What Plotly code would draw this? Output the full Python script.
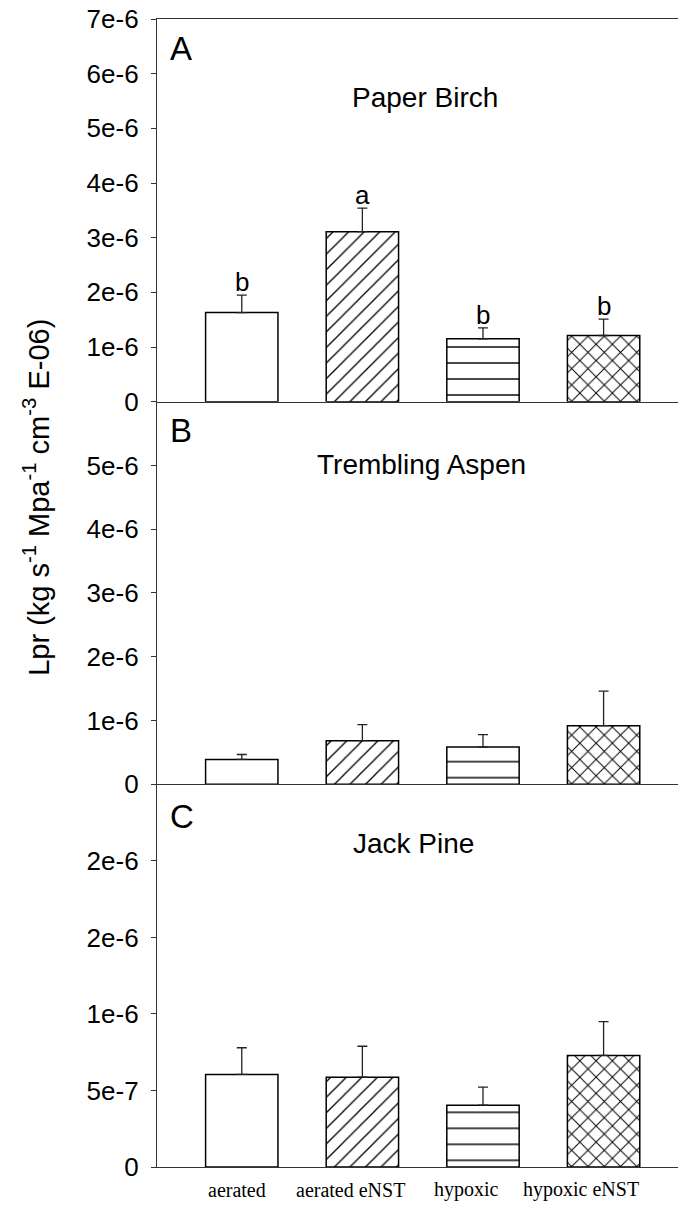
import plotly.graph_objects as go

categories = ["aerated", "aerated eNST", "hypoxic", "hypoxic eNST"]

birch_mean = [1.63e-6, 3.11e-6, 1.15e-6, 1.21e-6]
birch_err = [0.32e-6, 0.43e-6, 0.20e-6, 0.30e-6]
birch_letters = ["b", "a", "b", "b"]

aspen_mean = [0.39e-6, 0.685e-6, 0.585e-6, 0.92e-6]
aspen_err = [0.078e-6, 0.25e-6, 0.194e-6, 0.54e-6]

pine_mean = [0.605e-6, 0.587e-6, 0.404e-6, 0.729e-6]
pine_err = [0.174e-6, 0.202e-6, 0.118e-6, 0.221e-6]

tickvals_A = [0, 1e-6, 2e-6, 3e-6, 4e-6, 5e-6, 6e-6, 7e-6]
ticktext_A = ["0", "1e-6", "2e-6", "3e-6", "4e-6", "5e-6", "6e-6", "7e-6"]
tickvals_B = [0, 1e-6, 2e-6, 3e-6, 4e-6, 5e-6]
ticktext_B = ["0", "1e-6", "2e-6", "3e-6", "4e-6", "5e-6"]
tickvals_C = [0, 5e-7, 1e-6, 1.5e-6, 2e-6]
ticktext_C = ["0", "5e-7", "1e-6", "2e-6", "2e-6"]

panel_titles = ["Paper Birch", "Trembling Aspen", "Jack Pine"]
panel_letters = ["A", "B", "C"]

patterns = ["", "/", "-", "x"]
pattern_sizes = [10, 11, 16, 11.5]
pattern_solid = [0.1, 0.12, 0.09, 0.16]

SANS = "Liberation Sans, Arial, sans-serif"
SERIF = "Liberation Serif, Times New Roman, serif"
AXC = "#333333"

fig = go.Figure()

panels = [
    (birch_mean, birch_err, "x", "y"),
    (aspen_mean, aspen_err, "x2", "y2"),
    (pine_mean, pine_err, "x3", "y3"),
]

for mean, err, xa, ya in panels:
    fig.add_trace(go.Bar(
        x=categories, y=mean, xaxis=xa, yaxis=ya, width=0.6,
        marker=dict(
            color="white",
            line=dict(color="black", width=1.5),
            pattern=dict(shape=patterns, size=pattern_sizes, solidity=pattern_solid,
                         fgcolor="black", bgcolor="white", fgopacity=1,
                         fillmode="replace"),
        ),
        error_y=dict(type="data", symmetric=False, array=err, arrayminus=[0] * len(err),
                     color="#222222", thickness=1.3, width=5),
        showlegend=False,
    ))

domains = [[2 / 3, 1.0], [1 / 3, 2 / 3], [0.0, 1 / 3]]
yranges = [[0, 7e-6], [0, 6e-6], [0, 2.5e-6]]
ticks = [(tickvals_A, ticktext_A), (tickvals_B, ticktext_B), (tickvals_C, ticktext_C)]

layout = dict(
    width=678, height=1205,
    margin=dict(l=157, r=0, t=19, b=38),
    paper_bgcolor="white", plot_bgcolor="white",
    bargap=0.4,
)
for i in range(3):
    sfx = "" if i == 0 else str(i + 1)
    layout["xaxis" + sfx] = dict(
        domain=[0, 1], range=[-0.703, 3.617], anchor="y" + sfx,
        showline=True, linecolor=AXC, linewidth=1.3, mirror=(i == 0),
        showticklabels=False, ticks="", showgrid=False, zeroline=False,
        categoryorder="array", categoryarray=categories,
        matches="x" if i > 0 else None,
    )
    layout["yaxis" + sfx] = dict(
        domain=domains[i], range=yranges[i], anchor="x" + sfx,
        showline=True, linecolor=AXC, linewidth=1.3,
        ticks="outside", ticklen=5, tickcolor=AXC, tickwidth=1.2,
        tickvals=ticks[i][0], ticktext=ticks[i][1],
        tickfont=dict(family=SANS, size=26, color="black"),
        ticklabelstandoff=7,
        showgrid=False, zeroline=False,
    )
fig.update_layout(**layout)

annotations = []
letter_y = [0.974, 0.6414, 0.3051]
title_x = [0.514, 0.508, 0.493]
title_y = [0.9312, 0.6115, 0.2822]
for i in range(3):
    annotations.append(dict(text=panel_letters[i], xref="paper", yref="paper",
                            x=0.022, y=letter_y[i], xanchor="left", yanchor="middle",
                            showarrow=False, font=dict(family=SANS, size=33, color="black")))
    annotations.append(dict(text=panel_titles[i], xref="paper", yref="paper",
                            x=title_x[i], y=title_y[i], xanchor="center", yanchor="middle",
                            showarrow=False, font=dict(family=SANS, size=28, color="black")))

for c, m, e, l in zip(categories, birch_mean, birch_err, birch_letters):
    annotations.append(dict(text=l, x=c, y=m + e, xref="x", yref="y",
                            xanchor="center", yanchor="bottom", yshift=-4,
                            showarrow=False, font=dict(family=SANS, size=26, color="black")))

label_shift = [-5, -12, -16, -23]
for c, s in zip(categories, label_shift):
    annotations.append(dict(text=c, x=c, y=-0.020, xref="x3", yref="paper",
                            xanchor="center", yanchor="middle", xshift=s,
                            showarrow=False, font=dict(family=SERIF, size=20, color="black")))

annotations.append(dict(
    text="Lpr (kg s<sup>-1</sup> Mpa<sup>-1</sup> cm<sup>-3</sup> E-06)",
    xref="paper", yref="paper", x=-0.232, y=0.583, textangle=-90,
    xanchor="center", yanchor="middle", showarrow=False,
    font=dict(family=SANS, size=29, color="black")))

fig.update_layout(annotations=annotations)

fig.write_html("out.html")
